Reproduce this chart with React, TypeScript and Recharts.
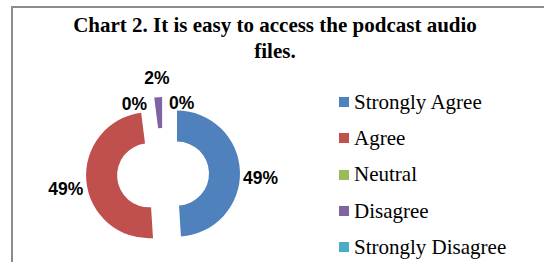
import { PieChart, Pie, Cell, Sector, Legend } from 'recharts';

const categories = ['Strongly Agree', 'Agree', 'Neutral', 'Disagree', 'Strongly Disagree'];
const responses = [49, 49, 0, 2, 0];
const colors = ['#4F81BD', '#C0504D', '#9BBB59', '#8064A2', '#4BACC6'];
const title = 'Chart 2. It is easy to access the podcast audio files.';

const data = categories.map((name, i) => ({ name, value: responses[i] }));

const RADIAN = Math.PI / 180;
const EXPLODE = 14;

function ExplodedSector(props: any) {
    const { cx, cy, midAngle } = props;
    const dx = EXPLODE * Math.cos(-midAngle * RADIAN);
    const dy = EXPLODE * Math.sin(-midAngle * RADIAN);
    return <Sector {...props} cx={cx + dx} cy={cy + dy} stroke="none" />;
}

function renderLabel(props: any) {
    const { cx, cy, midAngle, outerRadius, percent, value } = props;
    const r = outerRadius + EXPLODE + 3;
    const cos = Math.cos(-midAngle * RADIAN);
    const sin = Math.sin(-midAngle * RADIAN);
    let x = cx + r * cos;
    let y = cy + r * sin;
    let anchor: 'start' | 'end' | 'middle' = cos >= 0 ? 'start' : 'end';
    if (value === 0) {
        // empty slices at the top get nudged beside the thin one
        anchor = x < cx - 1 ? 'end' : 'start';
        x += anchor === 'end' ? -6 : 6;
        y += 9;
    } else if (Math.abs(cos) < 0.3) {
        anchor = 'middle';
        x = cx + (r + 16) * cos;
        y = cy + (r + 16) * sin;
    } else {
        y += 7;
    }
    return (
        <text
            x={x}
            y={y}
            textAnchor={anchor}
            dominantBaseline="central"
            fill="#000"
            style={{ fontFamily: '"Liberation Sans", Arial, sans-serif', fontWeight: 700, fontSize: 17.5 }}
        >
            {`${Math.round(percent * 100)}%`}
        </text>
    );
}

function LegendContent() {
    return (
        <div style={{ fontFamily: '"Liberation Serif", "Times New Roman", serif', fontSize: 21, color: '#000' }}>
            {categories.map((c, i) => (
                <div key={c} style={{ display: 'flex', alignItems: 'center', height: 36.3 }}>
                    <div style={{ width: 10, height: 10, background: colors[i], marginRight: 5 }} />
                    <span>{c}</span>
                </div>
            ))}
        </div>
    );
}

export default function App() {
    return (
        <div style={{ position: 'absolute', left: 0, top: 0, width: 544, height: 262, overflow: 'hidden', background: '#fff' }}>
            <div style={{ position: 'absolute', left: 11, top: 6, width: 600, height: 320, border: '2px solid #8c8c8c' }} />
            <div
                style={{
                    position: 'absolute', left: 65, top: 12, width: 420, textAlign: 'center',
                    fontFamily: '"Liberation Serif", "Times New Roman", serif', fontWeight: 700,
                    fontSize: 21, lineHeight: '26px', color: '#000',
                }}
            >
                {title}
            </div>
            <div style={{ position: 'absolute', left: 0, top: 0 }}>
                <PieChart width={544} height={262} margin={{ top: 0, right: 0, bottom: 0, left: 0 }}>
                    <Pie
                        data={data}
                        dataKey="value"
                        nameKey="name"
                        cx={163}
                        cy={174}
                        innerRadius={32}
                        outerRadius={63}
                        startAngle={90}
                        endAngle={-270}
                        stroke="none"
                        shape={ExplodedSector}
                        label={renderLabel}
                        labelLine={false}
                        isAnimationActive={false}
                    >
                        {data.map((d, i) => (
                            <Cell key={d.name} fill={colors[i]} />
                        ))}
                    </Pie>
                    <Legend
                        layout="vertical"
                        content={<LegendContent />}
                        wrapperStyle={{ left: 339, top: 84, width: 205 }}
                    />
                </PieChart>
            </div>
        </div>
    );
}
